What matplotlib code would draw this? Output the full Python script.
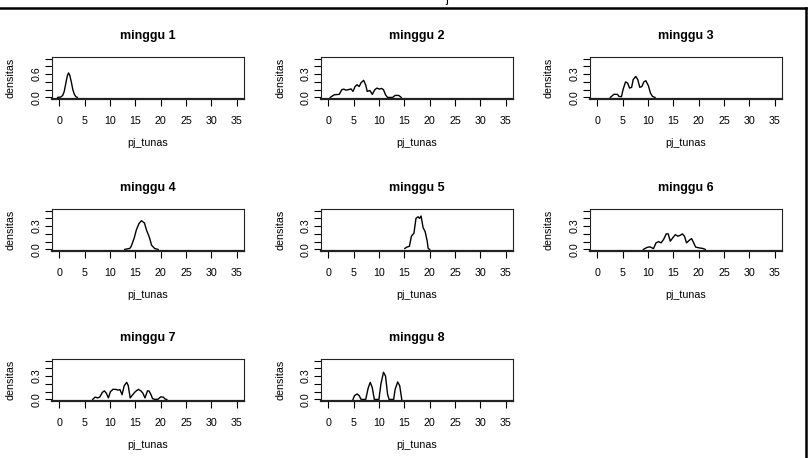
import matplotlib.pyplot as plt
from matplotlib.lines import Line2D

plt.rcParams['font.family'] = ['Liberation Sans', 'DejaVu Sans']

# density curves (pj_tunas, densitas)
m1_x = [-0.3, 0.3, 0.7, 1.0, 1.3, 1.6, 1.85, 2.1, 2.4, 2.7, 3.0, 3.3, 3.6]
m1_y = [0.0, 0.01, 0.05, 0.15, 0.35, 0.55, 0.63, 0.57, 0.40, 0.20, 0.08, 0.02, 0.0]

m2_x = [0.4, 1.2, 2.2, 2.7, 3.1, 3.5, 4.0, 4.5, 4.9, 5.3, 5.7, 6.1, 6.5, 7.0, 7.4, 7.7,
        8.2, 8.7, 9.2, 9.6, 10.1, 10.5, 10.9, 11.3, 11.7, 12.7, 13.2, 13.9, 14.4]
m2_y = [0.0, 0.034, 0.04, 0.10, 0.107, 0.094, 0.10, 0.11, 0.077, 0.14, 0.163, 0.14, 0.19,
        0.22, 0.16, 0.077, 0.09, 0.04, 0.10, 0.12, 0.107, 0.116, 0.10, 0.034, 0.0, 0.0,
        0.026, 0.026, 0.0]

m3_x = [2.6, 3.3, 4.0, 4.3, 4.8, 5.1, 5.6, 6.0, 6.4, 6.8, 7.1, 7.6, 8.0, 8.4, 8.8, 9.2,
        9.6, 10.1, 10.5, 10.9, 11.4]
m3_y = [0.0, 0.04, 0.04, 0.013, 0.01, 0.10, 0.20, 0.185, 0.12, 0.13, 0.23, 0.27, 0.23,
        0.13, 0.14, 0.20, 0.215, 0.15, 0.056, 0.013, 0.0]

m4_x = [12.9, 13.9, 14.2, 14.8, 15.2, 15.7, 16.2, 16.8, 17.2, 17.8, 18.2, 18.8, 19.5]
m4_y = [0.0, 0.013, 0.04, 0.15, 0.25, 0.33, 0.37, 0.34, 0.25, 0.15, 0.055, 0.013, 0.0]

m5_x = [15.1, 15.5, 16.0, 16.4, 16.9, 17.3, 17.7, 18.0, 18.3, 18.7, 19.1, 19.5, 19.7, 20.0]
m5_y = [0.013, 0.03, 0.04, 0.17, 0.21, 0.40, 0.42, 0.40, 0.43, 0.28, 0.23, 0.11, 0.013, 0.0]

m6_x = [9.1, 9.8, 10.4, 11.1, 11.6, 12.1, 12.6, 13.1, 13.6, 14.0, 14.4, 14.9, 15.4, 15.9,
        16.3, 16.8, 17.2, 17.6, 18.1, 18.6, 18.9, 19.4, 20.1, 20.8, 21.3]
m6_y = [0.0, 0.025, 0.034, 0.01, 0.085, 0.10, 0.085, 0.13, 0.20, 0.20, 0.106, 0.15, 0.19,
        0.17, 0.18, 0.20, 0.17, 0.085, 0.115, 0.14, 0.10, 0.03, 0.02, 0.013, 0.0]

m7_x = [6.6, 7.1, 7.6, 8.0, 8.5, 8.9, 9.3, 9.7, 10.1, 10.6, 11.1, 11.6, 12.0, 12.4, 12.8,
        13.3, 13.6, 14.0, 14.6, 15.0, 15.6, 16.1, 16.5, 16.9, 17.4, 17.7, 18.1, 18.4, 18.9,
        19.5, 20.0, 20.5, 20.9, 21.2]
m7_y = [0.0, 0.03, 0.02, 0.03, 0.09, 0.11, 0.08, 0.02, 0.10, 0.13, 0.13, 0.12, 0.125, 0.06,
        0.175, 0.22, 0.18, 0.02, 0.07, 0.10, 0.13, 0.11, 0.08, 0.02, 0.11, 0.11, 0.06, 0.01,
        0.0, 0.004, 0.033, 0.03, 0.004, 0.0]

m8_x = [4.9, 5.2, 5.7, 6.1, 6.5, 7.4, 7.9, 8.3, 8.7, 9.1, 10.0, 10.4, 10.9, 11.3, 11.7,
        12.0, 12.9, 13.2, 13.7, 14.1, 14.5]
m8_y = [0.0, 0.05, 0.07, 0.05, 0.0, 0.0, 0.15, 0.22, 0.15, 0.0, 0.0, 0.20, 0.35, 0.30,
        0.07, 0.0, 0.0, 0.13, 0.225, 0.175, 0.0]

titles = ['minggu 1', 'minggu 2', 'minggu 3', 'minggu 4',
          'minggu 5', 'minggu 6', 'minggu 7', 'minggu 8']
curves = [(m1_x, m1_y), (m2_x, m2_y), (m3_x, m3_y), (m4_x, m4_y),
          (m5_x, m5_y), (m6_x, m6_y), (m7_x, m7_y), (m8_x, m8_y)]
x_ticks = [0, 5, 10, 15, 20, 25, 30, 35]

W, H = 810, 458
fig = plt.figure(figsize=(W / 100, H / 100), dpi=100)

col_left = [52, 321, 590]
row_top = [57, 209, 359]
aw, ah = 192, 42

for i, (title, (xs, ys)) in enumerate(zip(titles, curves)):
    l = col_left[i % 3]
    t = row_top[i // 3]
    ax = fig.add_axes([l / W, 1 - (t + ah) / H, aw / W, ah / H])
    ax.plot(xs, ys, color='black', lw=1.0)
    ax.set_xlim(-1.4, 36.4)
    if i == 0:
        ymax, step, lab = 1.0, 0.2, ['0.0', '', '', '0.6', '', '']
    else:
        ymax, step, lab = 0.5, 0.1, ['0.0', '', '', '0.3', '', '']
    ax.set_ylim(-0.04 * ymax, 1.04 * ymax)
    ax.set_xticks(x_ticks)
    ax.set_xticklabels([str(v) for v in x_ticks])
    ax.set_yticks([k * step for k in range(6)])
    ax.set_yticklabels(lab, rotation=90, va='center')
    ax.tick_params(direction='out', length=5, width=0.8, labelsize=7.7, color='black')
    ax.tick_params(axis='x', pad=7.5)
    ax.tick_params(axis='y', pad=2.5)
    for s in ax.spines.values():
        s.set_linewidth(0.8)
        s.set_color('#222222')
    ax.spines['bottom'].set_linewidth(1.6)
    ax.set_title(title, fontsize=9, fontweight='bold', pad=13)
    ax.set_xlabel('pj_tunas', fontsize=7.7, va='top')
    ax.xaxis.set_label_coords(0.5, -39 / ah)
    ax.set_ylabel('densitas', fontsize=7.7)
    ax.yaxis.set_label_coords(-36 / aw, 0.5)

# frame around the page and the cut off text at the very top
fig.add_artist(Line2D([0, 806 / W], [1 - 8 / H, 1 - 8 / H], color='black', lw=1.8))
fig.add_artist(Line2D([806 / W, 806 / W], [0, 1 - 8 / H], color='black', lw=1.8))
fig.text(447 / W, 1 - 2 / H, 'j', fontsize=9, ha='center', va='baseline')

plt.savefig('out.png', dpi=100)
